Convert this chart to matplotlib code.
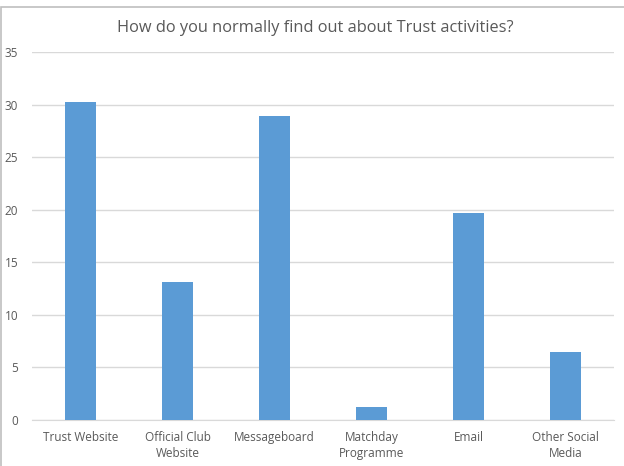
import matplotlib
matplotlib.use("Agg")
import matplotlib.pyplot as plt
from matplotlib.patches import Rectangle

categories = ["Trust Website", "Official Club\nWebsite", "Messageboard",
              "Matchday\nProgramme", "Email", "Other Social\nMedia"]
values = [30.25, 13.15, 28.9, 1.25, 19.7, 6.5]
yticks = [0, 5, 10, 15, 20, 25, 30, 35]
title = "How do you normally find out about Trust activities?"

plt.rcParams['font.family'] = ['Open Sans', 'DejaVu Sans']

fig = plt.figure(figsize=(6.24, 4.66), dpi=100)
ax = fig.add_axes([0.0513, 0.0987, 0.9327, 0.7893])

x = list(range(len(categories)))
ax.bar(x, values, width=0.32, color="#5b9bd5", zorder=3)
ax.set_xlim(-0.5, len(categories) - 0.5)
ax.set_ylim(0, 35)
ax.set_yticks(yticks)
ax.set_xticks(x)
ax.set_xticklabels(categories, fontsize=8.5, color="#595959", linespacing=1.25)
ax.tick_params(axis='y', labelsize=8.5, labelcolor="#595959", length=0, pad=10)
ax.tick_params(axis='x', length=0, pad=8)
ax.grid(axis='y', color="#d9d9d9", linewidth=1, zorder=0)
for s in ['top', 'right', 'left']:
    ax.spines[s].set_visible(False)
ax.spines['bottom'].set_color("#d9d9d9")

fig.text(0.505, 0.94, title, ha='center', va='center', fontsize=11.8, color="#595959")

# outer border lines
fig.add_artist(Rectangle((0.002, -0.01), 1.1, 1.0 - 0.004, transform=fig.transFigure,
                         fill=False, edgecolor="#bfbfbf", linewidth=1.2))

fig.savefig("out.png", dpi=100, facecolor="white")
